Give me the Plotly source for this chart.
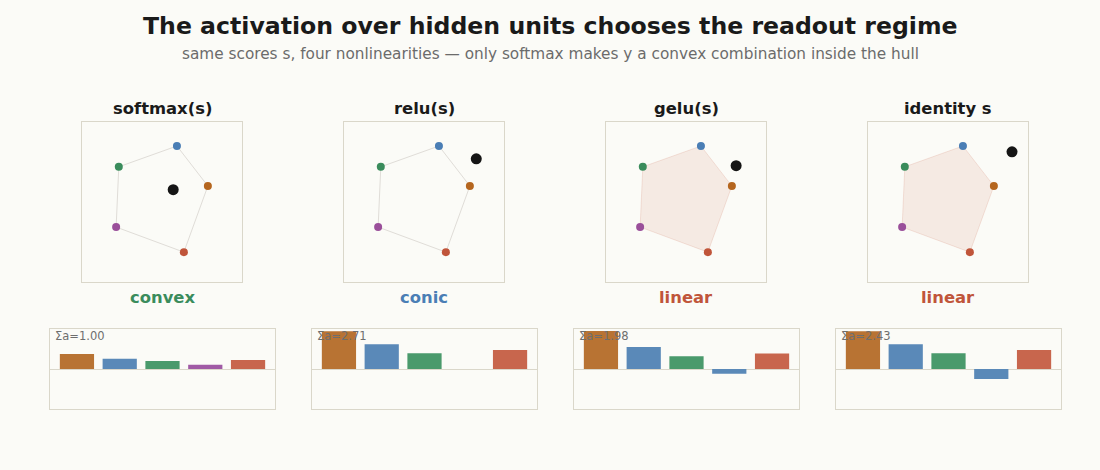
import plotly.graph_objects as go

# hidden units (order of the bars): orange, blue, green, purple, red
unit_colors = ["#b5661f", "#4a7eb5", "#3a8c5c", "#9a4f9a", "#c0553a"]
bar_colors = ["#b87333", "#5a89b8", "#4a9a6c", "#a05aa5", "#c8664d"]
neg_color = "#5a89b8"

# value vectors v_i in 2D (same order)
vx = [0.86, 0.28, -0.81, -0.86, 0.41]
vy = [0.30, 1.05, 0.66, -0.47, -0.94]
hull_order = [1, 0, 4, 3, 2, 1]

panel_titles = ["softmax(s)", "relu(s)", "gelu(s)", "identity s"]
regime_labels = ["convex", "conic", "linear", "linear"]
regime_colors = ["#3a8c5c", "#4a7eb5", "#c0553a", "#c0553a"]
filled_hull = [False, False, True, True]

# activations a_i per panel
a_softmax = [0.32, 0.22, 0.17, 0.09, 0.19]
a_relu = [1.05, 0.69, 0.44, 0.00, 0.53]
a_gelu = [0.90, 0.52, 0.30, -0.11, 0.37]
a_identity = [1.05, 0.69, 0.44, -0.28, 0.53]
weights = [a_softmax, a_relu, a_gelu, a_identity]
sum_labels = ["Σa=1.00", "Σa=2.71", "Σa=1.98", "Σa=2.43"]
bar_limits = [0.85, 1.11, 0.95, 1.11]

# readout y = sum a_i v_i
ro_x = [0.21, 0.98, 0.94, 1.20]
ro_y = [0.23, 0.81, 0.68, 0.94]

W, H = 1100, 470
bg = "#fbfbf7"
frame = "#dad7ca"

fig = go.Figure()
centers = [162, 424, 686, 948]


def note(x_px, y_px, text, size, color, xanchor="center"):
    fig.add_annotation(x=x_px / W, y=1 - y_px / H, xref="paper", yref="paper",
                       xanchor=xanchor, yanchor="middle", text=text, showarrow=False,
                       font=dict(size=size, color=color))


for k in range(4):
    sx, sy = f"x{k + 1}", f"y{k + 1}"
    bx, by = f"x{k + 5}", f"y{k + 5}"

    hx = [vx[i] for i in hull_order]
    hy = [vy[i] for i in hull_order]
    if filled_hull[k]:
        fig.add_trace(go.Scatter(x=hx, y=hy, mode="lines", fill="toself",
                                 fillcolor="rgba(192,85,58,0.10)",
                                 line=dict(color="rgba(192,85,58,0.15)", width=1),
                                 xaxis=sx, yaxis=sy, hoverinfo="skip"))
    else:
        fig.add_trace(go.Scatter(x=hx, y=hy, mode="lines",
                                 line=dict(color="#e0ddd8", width=1),
                                 xaxis=sx, yaxis=sy, hoverinfo="skip"))
    fig.add_trace(go.Scatter(x=vx, y=vy, mode="markers",
                             marker=dict(color=unit_colors, size=8),
                             xaxis=sx, yaxis=sy))
    fig.add_trace(go.Scatter(x=[ro_x[k]], y=[ro_y[k]], mode="markers",
                             marker=dict(color="#151515", size=11),
                             xaxis=sx, yaxis=sy))

    cols = [bar_colors[i] if w >= 0 else neg_color for i, w in enumerate(weights[k])]
    fig.add_trace(go.Bar(x=list(range(5)), y=weights[k], marker=dict(color=cols, line_width=0),
                         width=0.8, xaxis=bx, yaxis=by))

    c = centers[k]
    fig.update_layout({
        f"xaxis{k + 1}": dict(domain=[(c - 80) / W, (c + 80) / W], range=[-1.5, 1.5],
                              showgrid=False, zeroline=False, showticklabels=False,
                              showline=True, mirror=True, linecolor=frame, anchor=sy),
        f"yaxis{k + 1}": dict(domain=[1 - 282 / H, 1 - 122 / H], range=[-1.5, 1.5],
                              showgrid=False, zeroline=False, showticklabels=False,
                              showline=True, mirror=True, linecolor=frame, anchor=sx),
        f"xaxis{k + 5}": dict(domain=[(c - 112) / W, (c + 113) / W], range=[-0.63, 4.63],
                              showgrid=False, zeroline=False, showticklabels=False,
                              showline=True, mirror=True, linecolor=frame, anchor=by),
        f"yaxis{k + 5}": dict(domain=[1 - 409 / H, 1 - 329 / H],
                              range=[-bar_limits[k], bar_limits[k]],
                              showgrid=False, zeroline=True, zerolinecolor=frame, zerolinewidth=1,
                              showticklabels=False, showline=True, mirror=True,
                              linecolor=frame, anchor=bx),
    })

    note(c, 108, f"<b>{panel_titles[k]}</b>", 16.4, "#1a1a1a")
    note(c, 297, f"<b>{regime_labels[k]}</b>", 16.4, regime_colors[k])
    note(c - 109, 336, sum_labels[k], 11.5, "#6e6e6e", xanchor="left")

note(550, 26, "<b>The activation over hidden units chooses the readout regime</b>", 23.6, "#1a1a1a")
note(550, 54, "same scores s, four nonlinearities — only softmax makes y a convex combination inside the hull",
     15.3, "#6b6b6b")

fig.update_layout(width=W, height=H, margin=dict(l=0, r=0, t=0, b=0),
                  paper_bgcolor=bg, plot_bgcolor=bg, showlegend=False,
                  font=dict(family="DejaVu Sans"))

fig.write_html("out.html", config={"displayModeBar": False},
               post_script="document.body.style.margin='0';document.body.style.background='" + bg + "';")
